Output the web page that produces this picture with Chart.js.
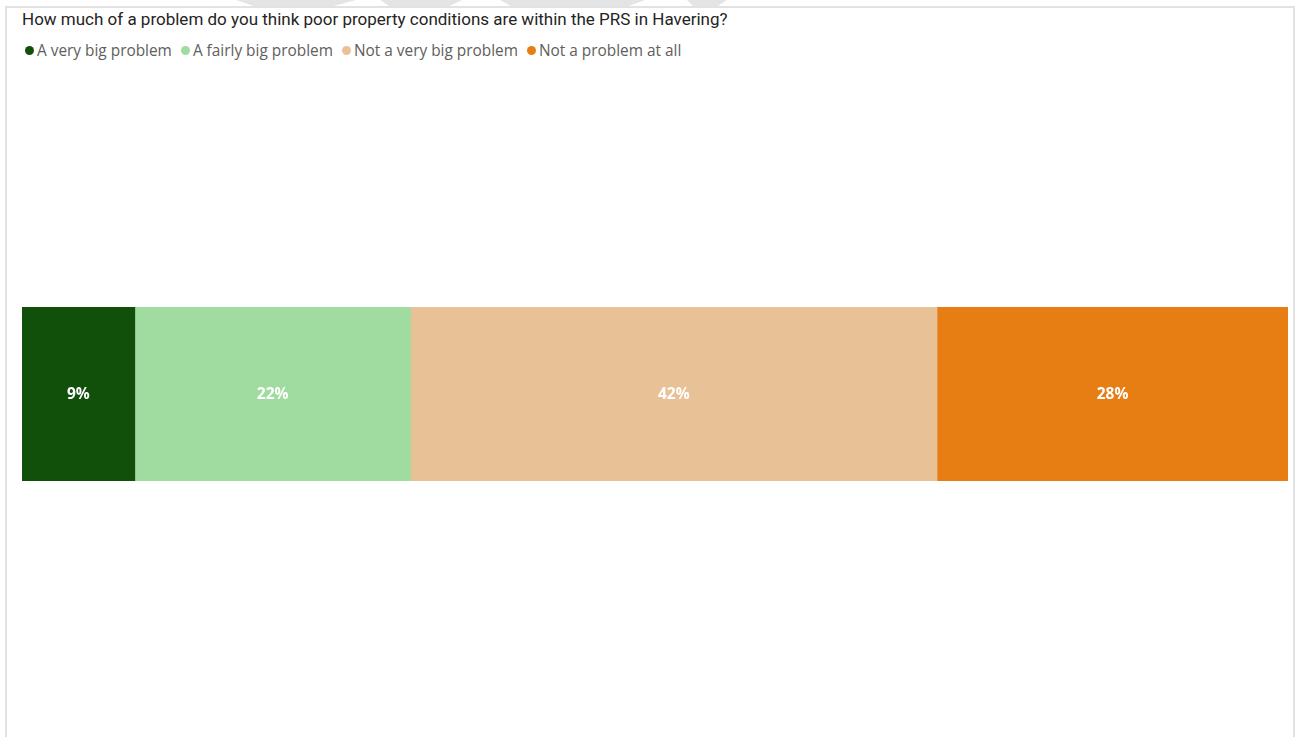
<!DOCTYPE html>
<html>
<head>
<meta charset="utf-8">
<title>Poor property conditions in the PRS</title>
<script src="https://cdn.jsdelivr.net/npm/chart.js@4/dist/chart.umd.min.js"></script>
<style>
  body { margin: 0; width: 1295px; height: 737px; overflow: hidden; position: relative; background: #fff; }
  .mark { position: absolute; top: 0; height: 8px; background: #e4e4e4; }
  #panel { position: absolute; left: 5px; top: 6px; width: 1290px; height: 740px; box-sizing: border-box;
           border: 2px solid #e2e2e2; border-bottom: none; background: #fff; }
  #title { position: absolute; left: 22px; top: 9px; line-height: 20px; font: 17px Roboto, sans-serif; color: #252423; white-space: nowrap; }
  #legend { position: absolute; left: 25px; top: 40px; line-height: 21px; font: 15.4px "Open Sans", sans-serif; color: #605e5c; white-space: nowrap; display: flex; }
  #legend span.item { display: flex; align-items: center; margin-right: 9px; }
  #legend span.dot { width: 9px; height: 9px; border-radius: 50%; margin-right: 3px; }
  #bar { position: absolute; left: 22px; top: 307px; width: 1266px; height: 174px; }
</style>
</head>
<body>
<div class="mark" style="left:236px;width:120px;clip-path:polygon(0 0,100% 0,75% 100%,20% 100%)"></div>
<div class="mark" style="left:380px;width:82px;clip-path:polygon(0 0,100% 0,80% 100%,15% 100%)"></div>
<div class="mark" style="left:500px;width:145px;clip-path:polygon(0 0,100% 0,85% 100%,10% 100%)"></div>
<div class="mark" style="left:687px;width:40px;clip-path:polygon(0 0,100% 0,70% 100%,20% 100%)"></div>
<div id="panel"></div>
<div id="title">How much of a problem do you think poor property conditions are within the PRS in Havering?</div>
<div id="legend"></div>
<div id="bar"><canvas id="chart"></canvas></div>
<script>
const categories = ['Havering'];
const seriesNames = ['A very big problem', 'A fairly big problem', 'Not a very big problem', 'Not a problem at all'];
const seriesValues = [9, 22, 42, 28];
const seriesColours = ['#11500b', '#a0dba0', '#e9c197', '#e67e14'];

// legend row above the bar
const legend = document.getElementById('legend');
seriesNames.forEach((name, i) => {
    let item = document.createElement('span');
    item.className = 'item';
    let dot = document.createElement('span');
    dot.className = 'dot';
    dot.style.background = seriesColours[i];
    item.appendChild(dot);
    item.appendChild(document.createTextNode(name));
    legend.appendChild(item);
});

// white percentage labels centred on each segment
const segmentLabels = {
    id: 'segmentLabels',
    afterDatasetsDraw(chart) {
        let ctx = chart.ctx;
        ctx.save();
        ctx.font = 'bold 15.5px "Open Sans", sans-serif';
        ctx.fillStyle = '#ffffff';
        ctx.textAlign = 'center';
        ctx.textBaseline = 'middle';
        chart.data.datasets.forEach((ds, i) => {
            let meta = chart.getDatasetMeta(i);
            meta.data.forEach((el, j) => {
                let p = el.getCenterPoint();
                ctx.fillText(ds.data[j] + '%', p.x, p.y + 1);
            });
        });
        ctx.restore();
    }
};

const total = seriesValues.reduce((a, b) => a + b, 0);

new Chart(document.getElementById('chart'), {
    type: 'bar',
    data: {
        labels: categories,
        datasets: seriesNames.map((name, i) => ({
            label: name,
            data: [seriesValues[i]],
            backgroundColor: seriesColours[i],
            borderWidth: 0,
            barPercentage: 1,
            categoryPercentage: 1
        }))
    },
    options: {
        indexAxis: 'y',
        responsive: true,
        maintainAspectRatio: false,
        animation: false,
        layout: { padding: 0 },
        scales: {
            x: { stacked: true, min: 0, max: total, display: false },
            y: { stacked: true, display: false }
        },
        plugins: {
            legend: { display: false },
            tooltip: { enabled: false }
        }
    },
    plugins: [segmentLabels]
});
</script>
</body>
</html>
